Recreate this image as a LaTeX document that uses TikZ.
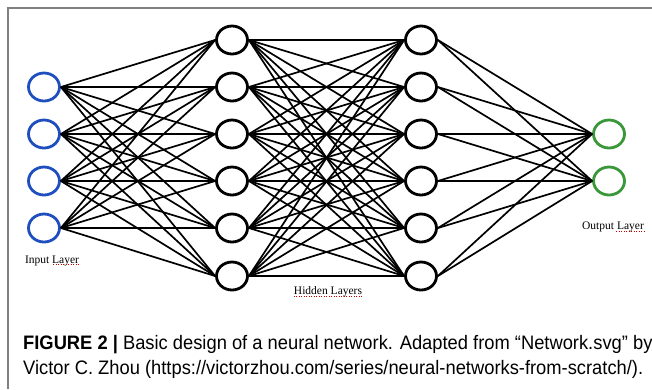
\documentclass[tikz,border=0pt]{standalone}
\usepackage{fontspec}
\setmainfont{Liberation Serif}
\newfontfamily\capfont[FakeStretch=0.94]{Liberation Sans}
\usepackage{xcolor}
\usetikzlibrary{positioning,shapes.geometric}

\definecolor{inblue}{HTML}{1F4FBF}
\definecolor{outgreen}{HTML}{3A973A}

\tikzset{
  neuron/.style={ellipse, draw, line width=2.8pt, minimum width=31pt, minimum height=28pt, inner sep=0pt},
  synapse/.style={line width=1.7pt, color=black},
  layerlabel/.style={font=\fontsize{11.5pt}{13pt}\selectfont, inner sep=0pt},
  squiggle/.style={color=red!80!black, line width=0.5pt, dotted},
  captext/.style={anchor=west, inner sep=0pt, font=\capfont\fontsize{19.5pt}{22pt}\selectfont}
}

\begin{document}
\begin{tikzpicture}[x=1pt,y=-1pt]
			\useasboundingbox (0,0) rectangle (652,389);
			\draw[color=gray, line width=1.2pt] (8,389) -- (8,8) -- (652,8);
			% layers
			\foreach \y [count=\i] in {87,134,181,228} {
				\node[neuron, draw=inblue] (in\i) at (44,\y) {};
			}
			\foreach \y [count=\i] in {40,87,134,181,228,276} {
				\node[neuron] (ha\i) at (232,\y) {};
				\node[neuron] (hb\i) at (421,\y) {};
			}
			\foreach \y [count=\i] in {134,181} {
				\node[neuron, draw=outgreen] (out\i) at (609,\y) {};
			}
			% connections
			\foreach \i in {1,...,4} {
				\foreach \j in {1,...,6} {
					\draw[synapse] (in\i.east) -- (ha\j.west);
				}
			}
			\foreach \i in {1,...,6} {
				\foreach \j in {1,...,6} {
					\draw[synapse] (ha\i.east) -- (hb\j.west);
				}
			}
			\foreach \i in {1,...,6} {
				\foreach \j in {1,2} {
					\draw[synapse] (hb\i.east) -- (out\j.west);
				}
			}
			% labels
			\node[layerlabel] (inlabel) at (52,261) {Input Layer};
			\node[layerlabel] (hidlabel) at (328,292) {Hidden Layers};
			\node[layerlabel] (outlabel) at (613,227) {Output Layer};
			\draw[squiggle] ([xshift=-26pt,yshift=1.5pt]inlabel.south east) -- ([yshift=1.5pt]inlabel.south east);
			\draw[squiggle] ([yshift=1.5pt]hidlabel.south west) -- ([yshift=1.5pt]hidlabel.south east);
			\draw[squiggle] ([xshift=-28pt,yshift=1.5pt]outlabel.south east) -- ([yshift=1.5pt]outlabel.south east);
			% caption
			\node[captext] (cap1) at (23,345)
				{\textbf{FIGURE 2 |} Basic design of a neural network. Adapted from “Network.svg” by};
			\node[captext] (cap2) at (23,369)
				{Victor C. Zhou (https://victorzhou.com/series/neural-networks-from-scratch/).};
		\end{tikzpicture}
\end{document}
